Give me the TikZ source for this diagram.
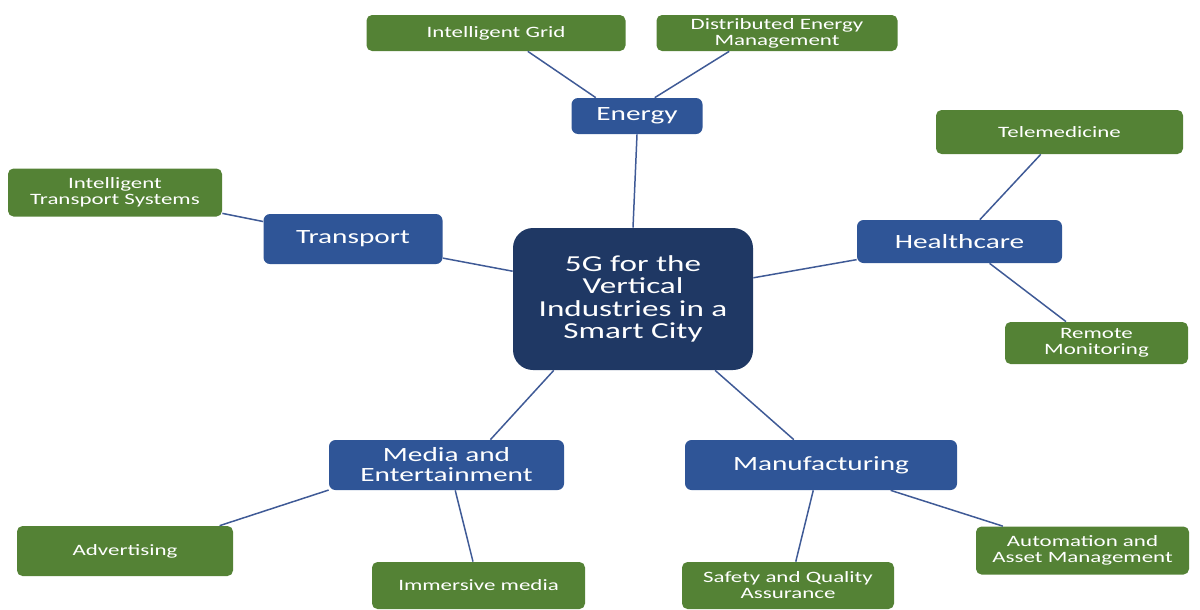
\documentclass[tikz,border=0pt]{standalone}
\usepackage{fontspec}
\setmainfont{Carlito}[FakeStretch=1.45]
\definecolor{hubblue}{HTML}{1F3864}
\definecolor{secblue}{HTML}{2F5597}
\definecolor{leafgreen}{HTML}{548235}
\definecolor{linkblue}{HTML}{3F5A96}
\begin{document}
\begin{tikzpicture}[
	hub/.style={fill=hubblue,rounded corners=0.4cm,text=white,align=center,inner sep=0pt,minimum width=4.8cm,minimum height=2.84cm,font=\fontsize{13}{12.7}\selectfont},
	sector/.style={fill=secblue,rounded corners=0.13cm,text=white,align=center,inner sep=0pt,minimum height=1cm,font=\fontsize{11.5}{11.4}\selectfont},
	leaf/.style={fill=leafgreen,rounded corners=0.11cm,text=white,align=center,inner sep=0pt,minimum height=0.96cm,font=\fontsize{9}{9.1}\selectfont},
	link/.style={draw=linkblue,line width=0.85pt}]
	\useasboundingbox (0,0) rectangle (24,-12.18);
	\node[hub] (hub) at (12.66,-5.98) {5G for the\\Vertical\\Industries in a\\Smart City};
	\node[sector,minimum width=2.62cm,minimum height=0.72cm] (energy) at (12.74,-2.32) {Energy};
	\node[sector,minimum width=3.58cm] (transport) at (7.06,-4.78) {Transport};
	\node[sector,minimum width=4.1cm,minimum height=0.86cm] (health) at (19.19,-4.83) {Healthcare};
	\node[sector,minimum width=4.7cm] (media) at (8.93,-9.3) {Media and\\Entertainment};
	\node[sector,minimum width=5.44cm] (manu) at (16.42,-9.3) {Manufacturing};
	\node[leaf,minimum width=5.18cm,minimum height=0.72cm] (grid) at (9.92,-0.66) {Intelligent Grid};
	\node[leaf,minimum width=4.82cm,minimum height=0.72cm] (dem) at (15.54,-0.66) {Distributed Energy\\Management};
	\node[leaf,minimum width=4.28cm] (its) at (2.3,-3.85) {Intelligent\\Transport Systems};
	\node[leaf,minimum width=4.94cm,minimum height=0.88cm] (tele) at (21.19,-2.64) {Telemedicine};
	\node[leaf,minimum width=3.66cm,minimum height=0.84cm] (remote) at (21.93,-6.86) {Remote\\Monitoring};
	\node[leaf,minimum width=4.32cm,minimum height=1cm] (adv) at (2.5,-11.02) {Advertising};
	\node[leaf,minimum width=4.26cm,minimum height=0.94cm] (imm) at (9.57,-11.71) {Immersive media};
	\node[leaf,minimum width=4.24cm,minimum height=0.94cm] (safety) at (15.76,-11.71) {Safety and Quality\\Assurance};
	\node[leaf,minimum width=4.26cm] (auto) at (21.65,-11.01) {Automation and\\Asset Management};
	\draw[link] (energy.south) -- (hub.north);
	\draw[link] (grid.-30.7) -- (energy.156.6);
	\draw[link] (dem.201.8) -- (energy.46.5);
	\draw[link] (its.-11.1) -- (transport.169.4);
	\draw[link] (transport.-12.3) -- (hub.167.6);
	\draw[link] (hub.10.5) -- (health.190.6);
	\draw[link] (health.47.6) -- (tele.230.4);
	\draw[link] (health.-36.6) -- (remote.145);
	\draw[link] (hub.222) -- (media.30.8);
	\draw[link] (media.192.9) -- (adv.15.1);
	\draw[link] (media.-71.6) -- (imm.103);
	\draw[link] (hub.-41.3) -- (manu.137.9);
	\draw[link] (manu.253.5) -- (safety.72.9);
	\draw[link] (manu.-20) -- (auto.163.4);
\end{tikzpicture}
\end{document}
